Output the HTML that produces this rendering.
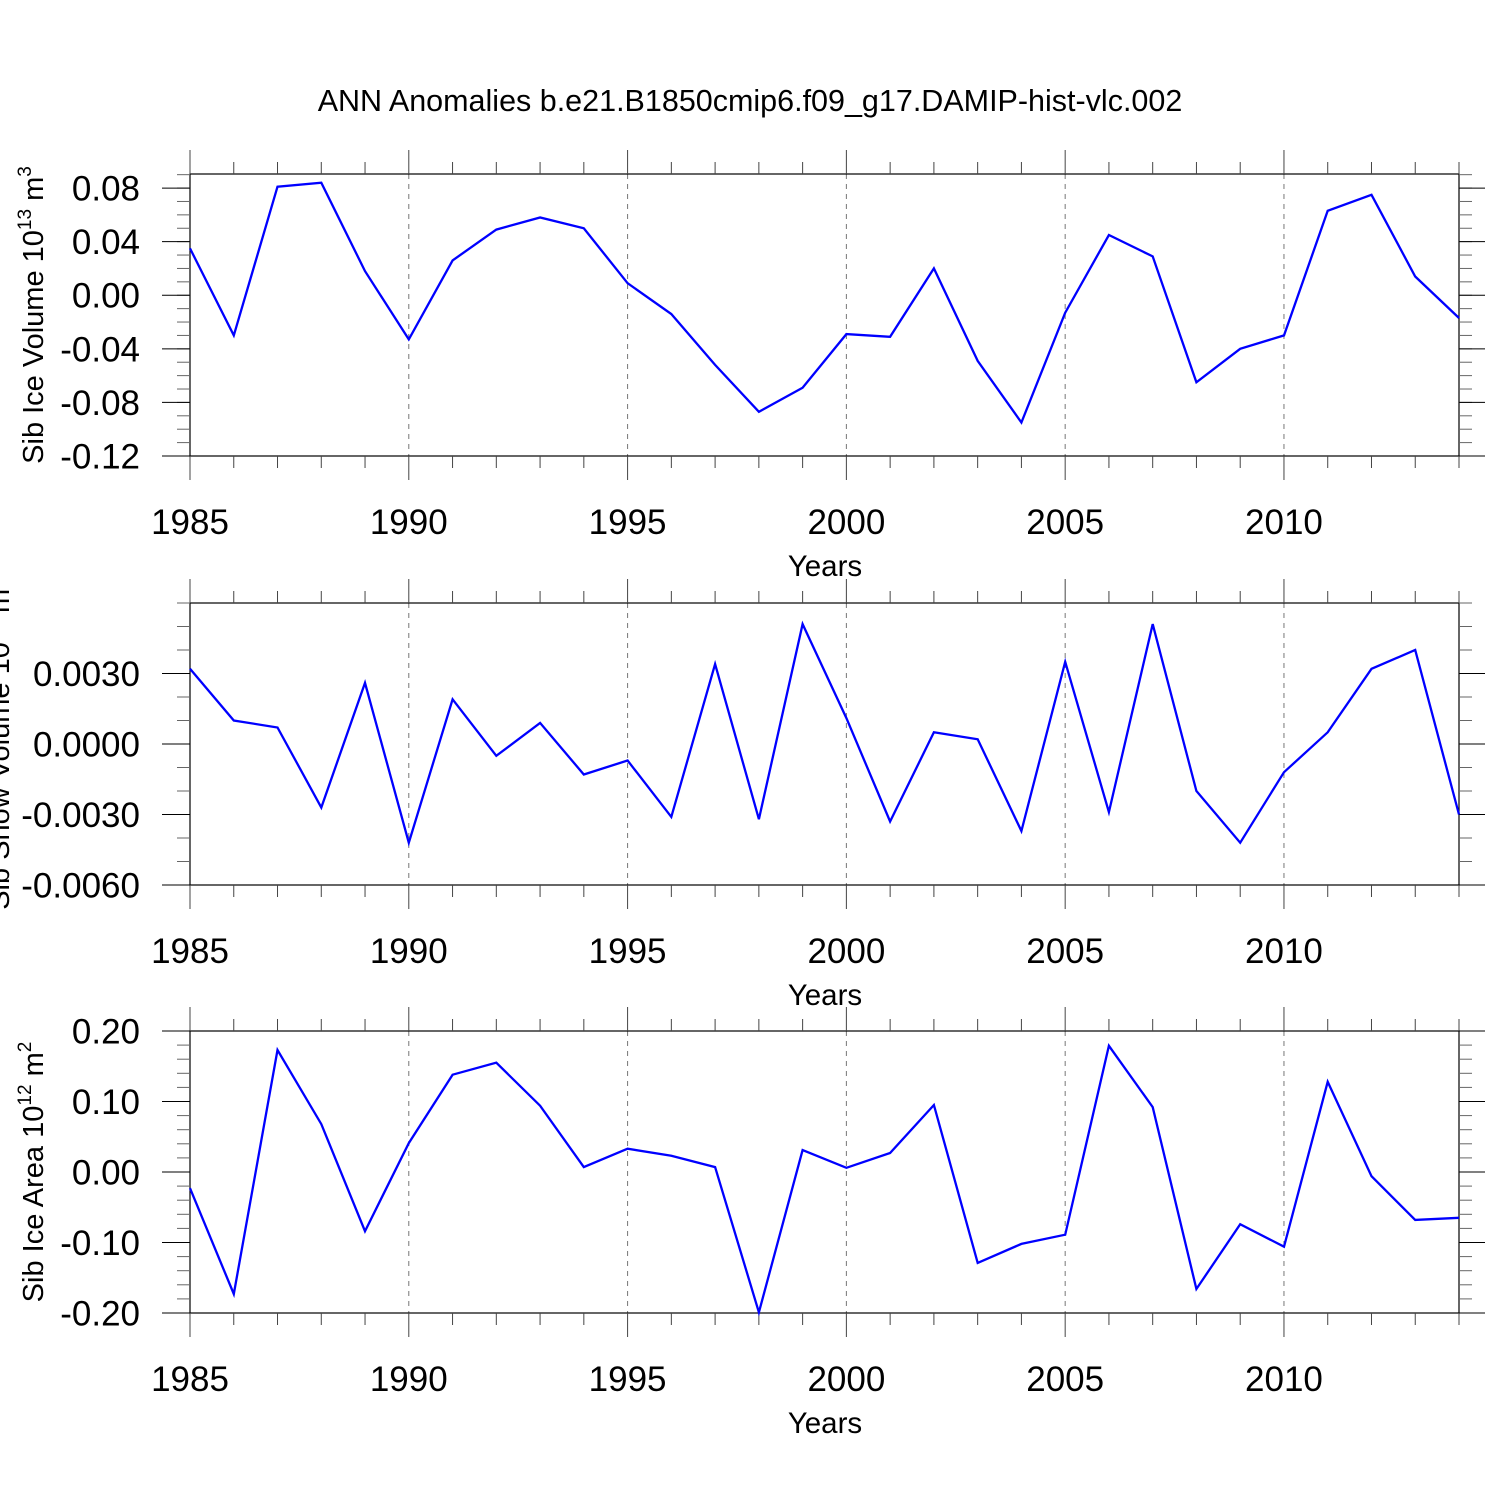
<!DOCTYPE html>
<html><head><meta charset="utf-8"><style>
html,body{margin:0;padding:0;background:#fff;}
svg{display:block;font-family:"Liberation Sans",Helvetica,Arial,sans-serif;}
</style></head><body>
<svg id="chart" width="1500" height="1500" viewBox="0 0 1500 1500" xmlns="http://www.w3.org/2000/svg">
<rect width="1500" height="1500" fill="#fff"/>
<text x="750" y="111" font-size="30.5" text-anchor="middle">ANN Anomalies b.e21.B1850cmip6.f09_g17.DAMIP-hist-vlc.002</text>
</svg>
<script>
const years = [1985,1986,1987,1988,1989,1990,1991,1992,1993,1994,1995,1996,1997,1998,1999,2000,2001,2002,2003,2004,2005,2006,2007,2008,2009,2010,2011,2012,2013,2014];
const iceVolume = [0.035,-0.030,0.081,0.084,0.018,-0.033,0.026,0.049,0.058,0.050,0.009,-0.014,-0.052,-0.087,-0.069,-0.029,-0.031,0.020,-0.049,-0.095,-0.013,0.045,0.029,-0.065,-0.040,-0.030,0.063,0.075,0.014,-0.017];
const snowVolume = [0.0032,0.0010,0.0007,-0.0027,0.0026,-0.0042,0.0019,-0.0005,0.0009,-0.0013,-0.0007,-0.0031,0.0034,-0.0032,0.0051,0.0011,-0.0033,0.0005,0.0002,-0.0037,0.0035,-0.0029,0.0051,-0.0020,-0.0042,-0.0012,0.0005,0.0032,0.0040,-0.0030];
const iceArea = [-0.023,-0.173,0.173,0.068,-0.084,0.041,0.138,0.155,0.094,0.007,0.033,0.023,0.007,-0.199,0.031,0.006,0.027,0.095,-0.129,-0.102,-0.089,0.179,0.092,-0.166,-0.074,-0.106,0.128,-0.006,-0.068,-0.065];
const xTickLabels = ["1985","1990","1995","2000","2005","2010"];
const volTicks = ["0.08","0.04","0.00","-0.04","-0.08","-0.12"];
const snowTicks = ["0.0030","0.0000","-0.0030","-0.0060"];
const areaTicks = ["0.20","0.10","0.00","-0.10","-0.20"];

const NS="http://www.w3.org/2000/svg";
const svg=document.getElementById('chart');
function mk(tag,attrs,parent){const e=document.createElementNS(NS,tag);for(const k in attrs)e.setAttribute(k,attrs[k]);(parent||svg).appendChild(e);return e;}
const X0=190,X1=1459;
function xs(yr){return X0+(yr-1985)/(2014-1985)*(X1-X0);}

const panels=[
 {top:174,bot:456,min:-0.12,max:0.0905,data:iceVolume,ticks:volTicks,minor:0.01,name:'ice-volume'},
 {top:603,bot:885,min:-0.006,max:0.006,data:snowVolume,ticks:snowTicks,minor:0.001,name:'snow-volume'},
 {top:1031,bot:1313,min:-0.2,max:0.2,data:iceArea,ticks:areaTicks,minor:0.02,name:'ice-area'}
];
panels.forEach((p,pi)=>{
 const g=mk('g',{});
 
 
 const ys=v=>p.bot-(v-p.min)/(p.max-p.min)*(p.bot-p.top);
 for(let yr=1990;yr<=2010;yr+=5){
  const l=mk('line',{x1:xs(yr),x2:xs(yr),y1:p.top,y2:p.bot,stroke:'#777','stroke-width':1,'stroke-dasharray':'5,5'},g);
  
  
 }
 const fr=mk('rect',{x:X0,y:p.top,width:X1-X0,height:p.bot-p.top,fill:'none',stroke:'#000','stroke-width':1.2},g);
 
 
 years.forEach(yr=>{
  const major=(yr-1985)%5===0, len=major?24:12, x=xs(yr);
  mk('line',{x1:x,x2:x,y1:p.top,y2:p.top-len,stroke:'#444','stroke-width':1},g);
  mk('line',{x1:x,x2:x,y1:p.bot,y2:p.bot+len,stroke:'#444','stroke-width':1},g);
 });
 xTickLabels.forEach(s=>{
  const t=mk('text',{x:xs(+s),y:p.bot+78,'font-size':35,'text-anchor':'middle'},g);
  t.textContent=s;
  
  
 });
 const xl=mk('text',{x:825,y:p.bot+120,'font-size':29.5,'text-anchor':'middle'},g);
 xl.textContent='Years';
 
 
 const n=Math.round((p.max-p.min)/p.minor);
 for(let i=0;i<=n;i++){
  const v=p.min+i*p.minor; const y=ys(v); if(y<p.top-0.5)continue;
  mk('line',{x1:X0,x2:X0-13,y1:y,y2:y,stroke:'#666','stroke-width':1},g);
  mk('line',{x1:X1,x2:X1+13,y1:y,y2:y,stroke:'#666','stroke-width':1},g);
 }
 p.ticks.forEach(s=>{
  const y=ys(parseFloat(s));
  mk('line',{x1:X0,x2:X0-28,y1:y,y2:y,stroke:'#000','stroke-width':1},g);
  mk('line',{x1:X1,x2:X1+26,y1:y,y2:y,stroke:'#000','stroke-width':1},g);
  const t=mk('text',{x:140,y:y+12.5,'font-size':35,'text-anchor':'end'},g);
  t.textContent=s;
  
  
 });
 const pts=p.data.map((v,i)=>xs(years[i]).toFixed(1)+','+ys(v).toFixed(1)).join(' ');
 const pl=mk('polyline',{points:pts,fill:'none',stroke:'#0000ff','stroke-width':2.3,'stroke-linejoin':'miter'},g);
 
 
});

function ylabel(x,cy,main,exp,unit,uexp,name){
 const t=mk('text',{transform:'translate('+x+','+cy+') rotate(-90)','font-size':29,'text-anchor':'middle'});
 t.innerHTML=main+' 10<tspan dy="-12" font-size="19">'+exp+'</tspan><tspan dy="12"> '+unit+'</tspan><tspan dy="-12" font-size="19">'+uexp+'</tspan>';
 
 
}
ylabel(43,315,'Sib Ice Volume','13','m','3','y-axis-title-volume');
ylabel(9,744,'Sib Snow Volume','13','m','3','y-axis-title-snow');
ylabel(43,1172,'Sib Ice Area','12','m','2','y-axis-title-area');
</script>
</body></html>
